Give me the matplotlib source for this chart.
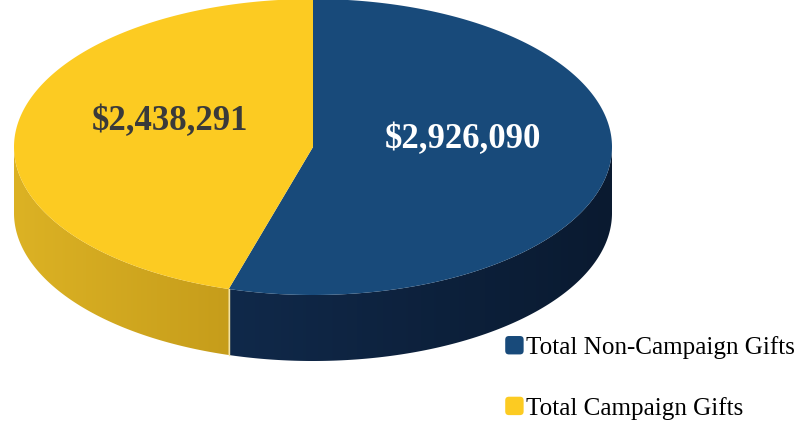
import numpy as np
import matplotlib
matplotlib.use("Agg")
import matplotlib.pyplot as plt
from matplotlib.patches import Polygon, FancyBboxPatch
from matplotlib.legend_handler import HandlerPatch
from matplotlib.colors import to_rgb

labels = ["Total Non-Campaign Gifts", "Total Campaign Gifts"]
values = [2926090, 2438291]
top_colors = ["#184a7a", "#fccb22"]
# side shading: (colour at the left end, colour at the right end)
side_colors = [("#10294a", "#0a1a30"), ("#dcb224", "#c69d1b")]
label_colors = ["white", "#3a3a3a"]

# ellipse geometry in pixels
cx, cy, rx, ry, depth = 313, 147, 299, 148, 66


def pt(theta, dy=0.0):
    return cx + rx * np.cos(theta), cy - ry * np.sin(theta) + dy


class RoundSquare(HandlerPatch):
    def create_artists(self, legend, orig, xd, yd, w, h, fs, trans):
        s = min(w, h)
        p = FancyBboxPatch((xd * -1 + (w - s) / 2, -yd + (h - s) / 2), s, s,
                           boxstyle="round,pad=0,rounding_size=%f" % (s * 0.2),
                           fc=orig.get_facecolor(), ec="none", transform=trans)
        return [p]


fig = plt.figure(figsize=(7.98, 4.21), dpi=100)
ax = fig.add_axes([0, 0, 1, 1])
ax.set_xlim(0, 798)
ax.set_ylim(421, 0)
ax.axis("off")

# wedges go clockwise from 12 o'clock
fracs = np.array(values) / sum(values)
starts = np.pi / 2 - 2 * np.pi * np.concatenate([[0], np.cumsum(fracs)[:-1]])
ends = starts - 2 * np.pi * fracs

handles = []
for i in range(len(values)):
    a0, a1 = starts[i], ends[i]

    # front wall: only the part facing the viewer (lower half of the ellipse)
    lo, hi = max(min(a0, a1), -np.pi), min(max(a0, a1), 0.0)
    if hi > lo:
        th = np.linspace(lo, hi, 200)
        x, y = pt(th)
        wall = np.column_stack([np.r_[x, x[::-1]], np.r_[y, (y + depth)[::-1]]])
        clip = Polygon(wall, closed=True, fc="none", ec="none", transform=ax.transData)
        ax.add_patch(clip)
        c0, c1 = np.array(to_rgb(side_colors[i][0])), np.array(to_rgb(side_colors[i][1]))
        f = np.linspace(0, 1, 256)[None, :, None]
        grad = c0 + (c1 - c0) * f
        x0, x1 = x.min(), x.max()
        y0, y1 = y.min(), y.max() + depth
        im = ax.imshow(grad, extent=(x0, x1, y1, y0), aspect="auto",
                       interpolation="bilinear", zorder=1)
        im.set_clip_path(clip)

    th = np.linspace(a0, a1, 300)
    x, y = pt(th)
    poly = np.column_stack([np.r_[cx, x], np.r_[cy, y]])
    p = Polygon(poly, closed=True, fc=top_colors[i], ec="none", zorder=2, label=labels[i])
    ax.add_patch(p)
    handles.append(p)

ax.set_xlim(0, 798)
ax.set_ylim(421, 0)

# light seam where the two walls meet
sx, sy = pt(ends[0])
ax.plot([sx, sx], [sy, sy + depth], color="#f4e3a0", lw=1.0, zorder=3)

# value labels on the top face
label_pos = [(463, 140), (170, 122)]
for i, v in enumerate(values):
    ax.text(*label_pos[i], f"${v:,}", ha="center", va="center", fontsize=25,
            fontweight="bold", family="Liberation Serif", color=label_colors[i], zorder=4)

ax.legend(handles=handles, loc="upper left", bbox_to_anchor=(505, 336),
          bbox_transform=ax.transData, frameon=False, borderpad=0, borderaxespad=0,
          handlelength=0.75, handleheight=0.75, handletextpad=0.1, labelspacing=1.5,
          handler_map={Polygon: RoundSquare()},
          prop={"family": "Liberation Serif", "size": 18.1})

fig.savefig("out.png", dpi=100)
